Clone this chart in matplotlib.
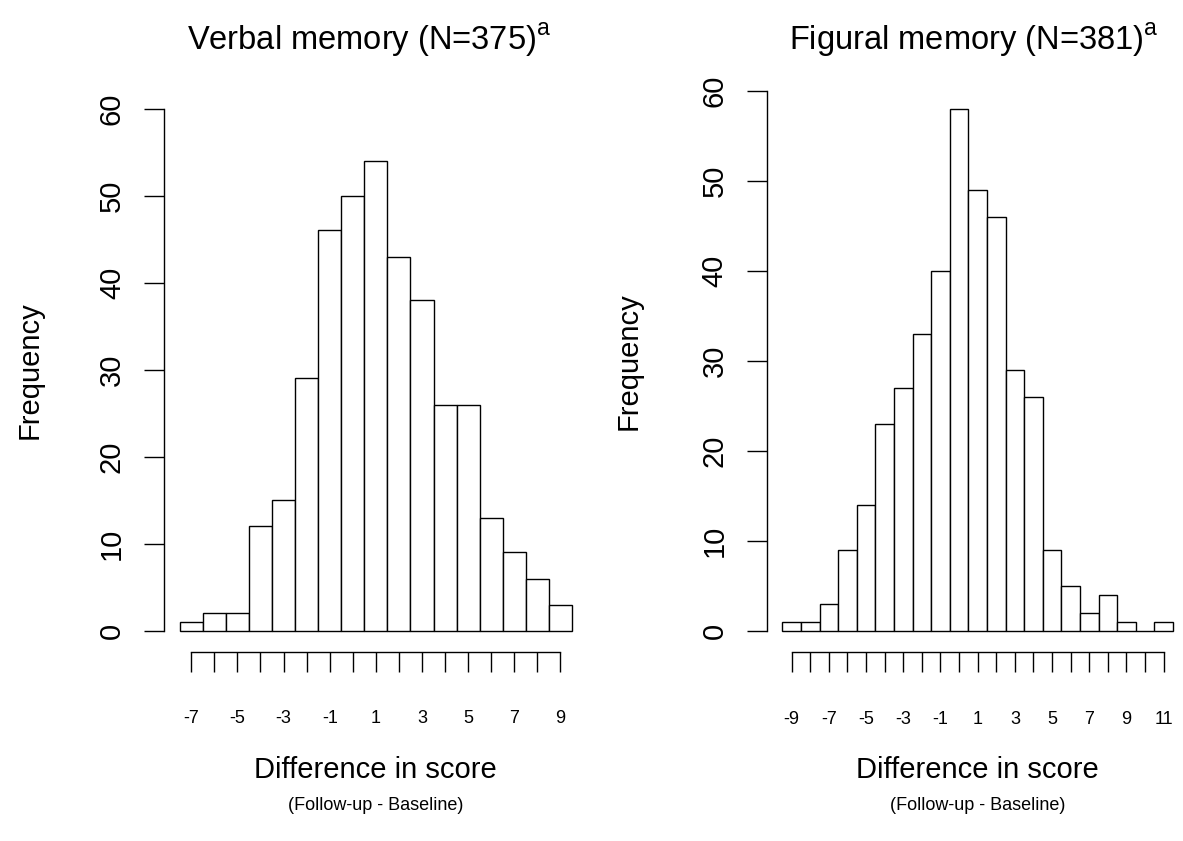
import matplotlib
matplotlib.use("Agg")
import matplotlib.pyplot as plt

plt.rcParams['font.family'] = ['Liberation Sans', 'DejaVu Sans']
plt.rcParams['mathtext.fontset'] = 'custom'
plt.rcParams['mathtext.rm'] = 'Liberation Sans'

# --- DATA: score differences (follow-up - baseline) and their counts ---
verbal_scores = list(range(-7, 10))
verbal_counts = [1, 2, 2, 12, 15, 29, 46, 50, 54, 43, 38, 26, 26, 13, 9, 6, 3]

figural_scores = list(range(-9, 12))
figural_counts = [1, 1, 3, 9, 14, 23, 27, 33, 40, 58, 49, 46, 29, 26, 9, 5, 2, 4, 1, 0, 1]

titles = ["Verbal memory (N=375)", "Figural memory (N=381)"]
y_ticks = [0, 10, 20, 30, 40, 50, 60]
# --- END DATA ---

W, H = 1183, 841
fig = plt.figure(figsize=(W / 100, H / 100), dpi=100)

# axes boxes in pixels: left, right, top, bottom
boxes = [(164, 587.7, 87.8, 651.6), (766.7, 1188.6, 69.1, 652.3)]
title_x = [369, 974]
freq_x = [30, 629]

panels = [(verbal_scores, verbal_counts), (figural_scores, figural_counts)]

for i, (scores, counts) in enumerate(panels):
    l, r, t, b = boxes[i]
    ax = fig.add_axes([l / W, 1 - b / H, (r - l) / W, (b - t) / H])

    ax.bar(scores, counts, width=1.0, facecolor="white", edgecolor="black",
           linewidth=1.0)

    lo, hi = scores[0] - 0.5, scores[-1] + 0.5
    ext = 0.04 * (hi - lo)
    ax.set_xlim(lo - ext, hi + ext)
    ax.set_ylim(-2.4, 62.4)

    for s in ("top", "right"):
        ax.spines[s].set_visible(False)
    ax.spines["left"].set_bounds(0, 60)
    ax.spines["bottom"].set_bounds(scores[0], scores[-1])
    for s in ("left", "bottom"):
        ax.spines[s].set_linewidth(1.0)

    ax.set_xticks(scores)
    ax.set_xticklabels([str(v) if v % 2 else "" for v in scores], fontsize=13)
    ax.set_yticks(y_ticks)
    ax.set_yticklabels([str(v) for v in y_ticks], fontsize=21, rotation=90,
                       va="center")
    ax.tick_params(axis="x", length=14.4, width=1.0, pad=28)
    ax.tick_params(axis="y", length=14.4, width=1.0, pad=13)

    cx = (l + r) / 2
    fig.text(title_x[i] / W, 1 - 50 / H, titles[i] + r"$^{\mathrm{a}}$",
             fontsize=23.5, ha="center", va="baseline")
    fig.text(freq_x[i] / W, 1 - ((t + b) / 2) / H, "Frequency", fontsize=21,
             rotation=90, ha="center", va="center")
    fig.text(cx / W, 1 - 778 / H, "Difference in score", fontsize=21,
             ha="center", va="baseline")
    fig.text(cx / W, 1 - 810 / H, "(Follow-up - Baseline)", fontsize=13,
             ha="center", va="baseline")

fig.savefig("out.png", dpi=100)
